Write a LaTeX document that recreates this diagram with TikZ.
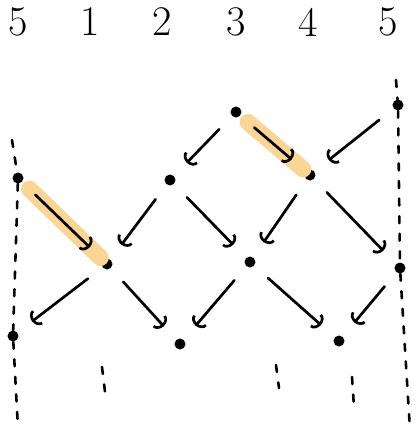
\documentclass[tikz,border=0pt]{standalone}
\usepackage{xcolor}
\usetikzlibrary{arrows.meta}
\definecolor{marker}{HTML}{FBD595}

\begin{document}
\begin{tikzpicture}[
        x=0.03cm, y=-0.03cm,
        dot/.style={
          circle,
          fill=black,
          inner sep=0pt,
          minimum size=0.33cm
        },
        colname/.style={font=\fontsize{36}{36}\selectfont},
        arrow/.style={-{Arc Barb[length=6pt,width=15pt]}, line width=2.3pt, line cap=round, shorten >=0.55cm, shorten <=0.55cm},
        highlight/.style={line width=0.5cm, draw=marker, line cap=round, shorten >=0.1cm, shorten <=0.3cm},
        guide/.style={line width=2.2pt, line cap=round, dash pattern=on 6pt off 9pt}
      ]
        \useasboundingbox (0,0) rectangle (416,434);

        % column labels
        \node[colname] (l5a) at (18,22) {5};
        \node[colname] (l1) at (90,22) {1};
        \node[colname] (l2) at (162,22) {2};
        \node[colname] (l3) at (236,22) {3};
        \node[colname] (l4) at (308,22) {4};
        \node[colname] (l5b) at (388,22) {5};

        % dots
        \node[dot] (a) at (236,112) {};
        \node[dot] (b) at (398,105) {};
        \node[dot] (c) at (18,178) {};
        \node[dot] (d) at (170,180) {};
        \node[dot] (e) at (310,175) {};
        \node[dot] (f) at (107,264) {};
        \node[dot] (g) at (250,262) {};
        \node[dot] (h) at (400,268) {};
        \node[dot] (i) at (13,336) {};
        \node[dot] (j) at (180,344) {};
        \node[dot] (k) at (339,341) {};

        % highlighted moves
        \draw[highlight] (a) -- (e);
        \draw[highlight] (c) -- (f);

        % boundary lines
        \coordinate (ltop) at (12,140);
        \coordinate (lbot) at (18,428);
        \coordinate (rtop) at (396,80);
        \coordinate (rbot) at (410,430);
        \draw[guide] (ltop) -- (c) -- (i) -- (lbot);
        \draw[guide] (rtop) -- (b) -- (h) -- (rbot);

        % moves
        \draw[arrow] (a) -- (d);
        \draw[arrow] (a) -- (e);
        \draw[arrow] (b) -- (e);
        \draw[arrow] (c) -- (f);
        \draw[arrow] (d) -- (f);
        \draw[arrow] (d) -- (g);
        \draw[arrow] (e) -- (g);
        \draw[arrow] (e) -- (h);
        \draw[arrow] (f) -- (i);
        \draw[arrow] (f) -- (j);
        \draw[arrow] (g) -- (j);
        \draw[arrow] (g) -- (k);
        \draw[arrow] (h) -- (k);

        % continuation dots
        \coordinate (m1) at (102,367);
        \coordinate (m2) at (106,400);
        \coordinate (n1) at (276,365);
        \coordinate (n2) at (279,388);
        \coordinate (o1) at (352,377);
        \coordinate (o2) at (354,407);
        \draw[guide] (m1) -- (m2);
        \draw[guide] (n1) -- (n2);
        \draw[guide] (o1) -- (o2);
      \end{tikzpicture}
\end{document}
